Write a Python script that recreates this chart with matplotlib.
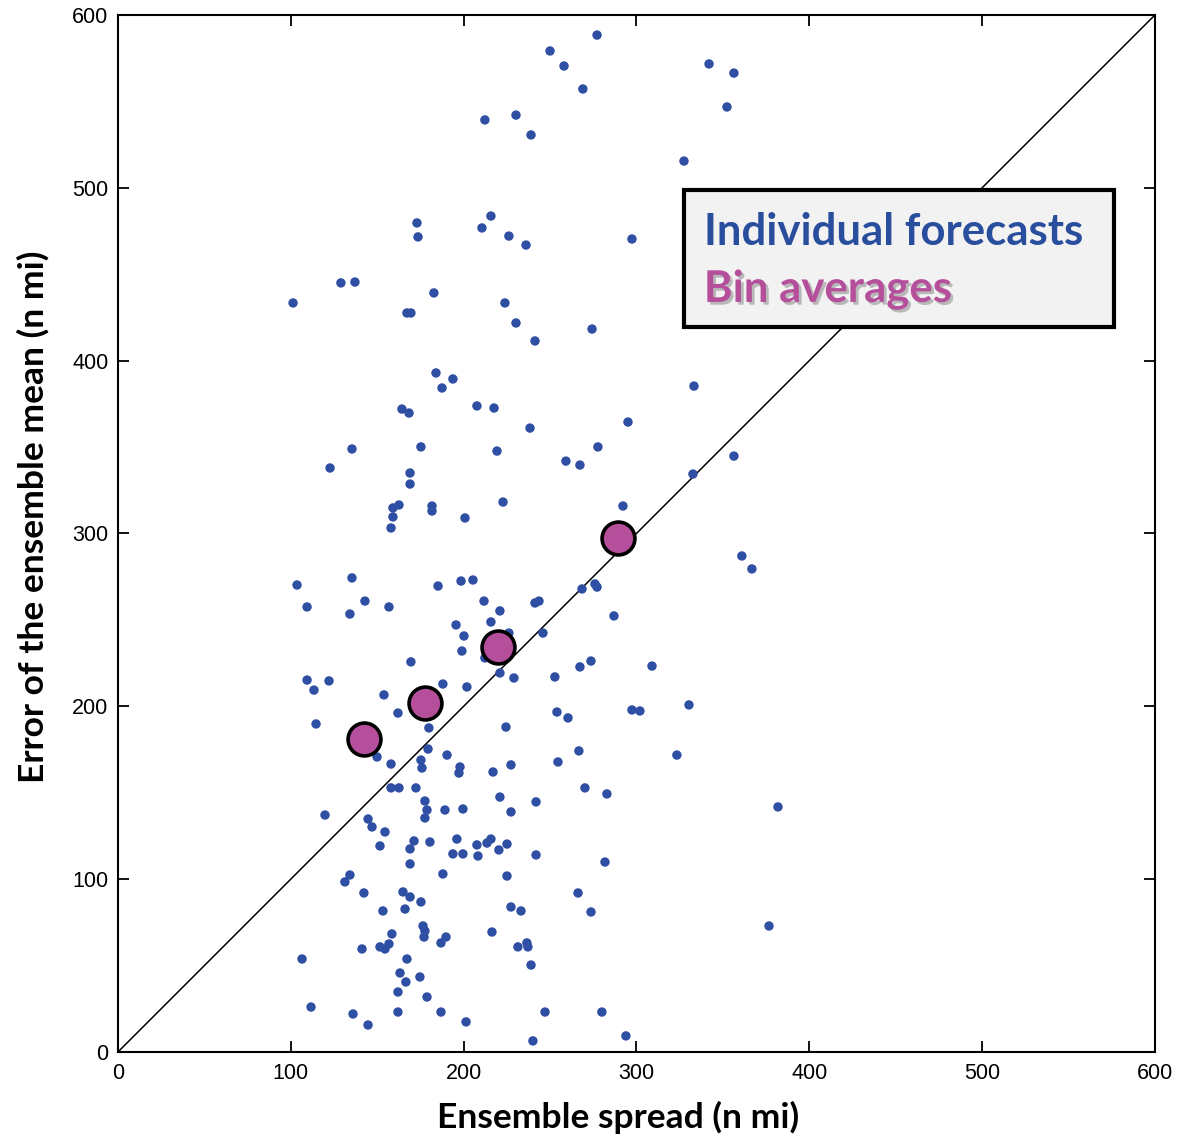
import matplotlib
matplotlib.use("Agg")
import matplotlib.pyplot as plt
import matplotlib.patheffects as pe
from matplotlib.patches import Rectangle

# individual forecasts (ensemble spread, error of ensemble mean), n mi
spread = [250.0, 212.3, 230.3, 239.0, 173.0, 173.6, 215.8, 210.6, 226.2, 236.1,
          101.3, 129.0, 137.1, 182.8, 167.2, 169.5, 223.9, 230.3, 241.3, 184.0,
          193.8, 187.5, 207.7, 217.6, 164.3, 168.4, 238.4, 135.4, 122.7, 175.3,
          219.3, 169.0, 169.0, 222.8, 162.6, 159.1, 159.1, 158.0, 181.7, 181.7,
          200.8, 103.6, 135.4, 185.2, 198.5, 205.4, 109.4, 134.2, 142.9, 156.8,
          211.8, 221.0, 241.3, 243.6, 195.6, 200.2, 215.8, 226.2, 245.9, 199.0,
          212.3, 169.5, 221.0, 229.1, 109.4, 122.1, 188.0, 113.4, 114.6, 153.9,
          162.0, 201.9, 179.9, 224.5, 179.4, 190.4, 175.3, 175.9, 197.9, 197.3,
          217.0, 227.4, 149.9, 158.0, 158.0, 162.6, 172.4, 177.6, 178.8, 177.6,
          189.2, 199.6, 221.0, 227.4, 241.9, 119.8, 144.7, 147.0, 154.5, 151.6,
          171.3, 169.0, 180.5, 169.0, 196.1, 207.7, 213.5, 215.8, 193.8, 199.6,
          208.3, 220.4, 225.1, 241.9, 188.0, 225.1, 131.3, 134.2, 142.3, 153.3,
          164.9, 169.0, 166.1, 175.3, 176.5, 177.6, 177.1, 186.9, 189.8, 227.4,
          233.2, 216.4, 158.5, 141.2, 151.6, 154.5, 156.8, 106.5, 167.2, 163.2,
          166.6, 174.7, 162.0, 178.8, 231.4, 236.6, 237.2, 239.0, 111.7, 136.0,
          144.7, 162.0, 186.9, 201.4, 240.1, 247.1, 277.2, 258.1, 269.0, 342.0,
          356.4, 352.4, 327.5, 297.4, 274.3, 333.3, 295.1, 277.7, 259.2, 267.3,
          356.4, 332.7, 292.2, 361.0, 366.8, 268.5, 276.0, 277.2, 287.0, 267.3,
          273.7, 309.0, 252.8, 254.0, 260.4, 297.4, 302.0, 330.4, 266.7, 323.4,
          254.6, 270.2, 282.9, 381.9, 281.8, 266.2, 273.7, 376.7, 280.0, 293.9]
error = [579.2, 539.3, 542.1, 530.6, 479.7, 471.6, 483.7, 476.8, 472.1, 466.9,
         433.4, 445.0, 445.5, 439.2, 427.6, 427.6, 433.4, 421.8, 411.4, 392.9,
         389.4, 384.2, 373.8, 372.6, 372.0, 369.7, 361.0, 348.9, 337.9, 350.1,
         347.7, 335.0, 328.6, 318.2, 316.5, 314.8, 309.6, 303.2, 315.9, 313.0,
         309.0, 270.2, 274.3, 269.6, 272.5, 273.1, 257.5, 253.4, 260.9, 257.5,
         260.9, 255.2, 259.8, 260.9, 247.1, 240.7, 248.8, 242.4, 242.4, 232.0,
         228.0, 225.7, 219.3, 216.4, 215.2, 214.7, 212.9, 209.4, 189.8, 206.6,
         196.1, 211.2, 187.5, 188.0, 175.3, 171.8, 168.9, 164.3, 164.9, 161.4,
         162.0, 166.1, 170.7, 166.6, 152.8, 152.8, 152.8, 145.2, 140.0, 135.4,
         140.0, 140.6, 147.5, 138.9, 144.7, 137.1, 134.8, 130.2, 127.3, 119.2,
         122.1, 117.5, 121.5, 108.8, 123.2, 119.8, 120.9, 123.2, 114.6, 114.6,
         113.4, 116.9, 120.3, 114.0, 103.0, 101.8, 98.4, 102.4, 92.0, 81.6,
         92.6, 89.7, 82.7, 86.8, 72.9, 70.0, 66.5, 63.1, 66.5, 83.9,
         81.6, 69.4, 68.3, 59.6, 60.8, 59.6, 62.5, 53.8, 53.8, 45.7,
         40.5, 43.4, 34.7, 31.8, 60.8, 63.1, 60.8, 50.3, 26.0, 22.0,
         15.6, 23.1, 23.1, 17.4, 6.4, 23.1, 588.4, 570.5, 557.2, 571.7,
         566.4, 546.8, 515.5, 470.4, 418.3, 385.3, 364.5, 350.1, 341.9, 339.6,
         344.8, 334.4, 315.9, 287.0, 279.5, 267.9, 270.8, 269.0, 252.3, 222.8,
         226.2, 223.3, 217.0, 196.7, 193.3, 197.9, 197.3, 200.8, 174.2, 171.8,
         167.8, 152.8, 149.3, 141.8, 109.9, 92.0, 81.0, 72.9, 23.1, 9.3]

# bin averages
bin_spread = [142.3, 177.6, 219.9, 289.3]
bin_error = [181.1, 201.9, 234.3, 297.4]

ticks = [0, 100, 200, 300, 400, 500, 600]

blue = "#2E4FA3"
magenta = "#B54E9B"

fig = plt.figure(figsize=(11.81, 11.38), dpi=100)
ax = fig.add_axes([0.0999, 0.0756, 0.878, 0.9112])

ax.plot([0, 600], [0, 600], color="black", linewidth=1.1, zorder=1)
ax.scatter(spread, error, s=46, color=blue, edgecolors="none", zorder=2)
ax.scatter(bin_spread, bin_error, s=560, color=magenta, edgecolors="black",
           linewidths=2.6, zorder=3)

ax.set_xlim(0, 600)
ax.set_ylim(0, 600)
ax.set_xticks(ticks)
ax.set_yticks(ticks)
ax.tick_params(direction="in", length=8, width=1.3, top=True, right=True,
               labelsize=15.5)
ax.tick_params(axis="x", pad=8)
ax.tick_params(axis="y", pad=7)
for lab in ax.get_xticklabels() + ax.get_yticklabels():
    lab.set_fontfamily("Liberation Sans")
for sp in ax.spines.values():
    sp.set_linewidth(1.5)

ax.set_xlabel("Ensemble spread (n mi)", fontsize=25.5, fontweight="bold",
              family="Lato", labelpad=12)
ax.set_ylabel("Error of the ensemble mean (n mi)", fontsize=25.5, fontweight="bold",
              family="Lato", labelpad=16)
# labels sit a little off-centre in the original
ax.xaxis.label.set_x(0.482)
ax.yaxis.label.set_y(0.516)

# legend box
ax.add_patch(Rectangle((327.5, 419.5), 248.8, 79.2, facecolor="#F2F2F2",
                       edgecolor="black", linewidth=3, zorder=4))
ax.text(339.0, 466.9, "Individual forecasts", color="#2A4E9E", fontsize=31.5,
        fontweight="bold", family="Lato", va="baseline", zorder=5)
ax.text(339.0, 434.0, "Bin averages", color=magenta, fontsize=31.5,
        fontweight="bold", family="Lato", va="baseline", zorder=5,
        path_effects=[pe.SimplePatchShadow(offset=(2, -2), shadow_rgbFace="gray", alpha=0.5),
                      pe.Normal()])

fig.savefig("out.png", dpi=100)
